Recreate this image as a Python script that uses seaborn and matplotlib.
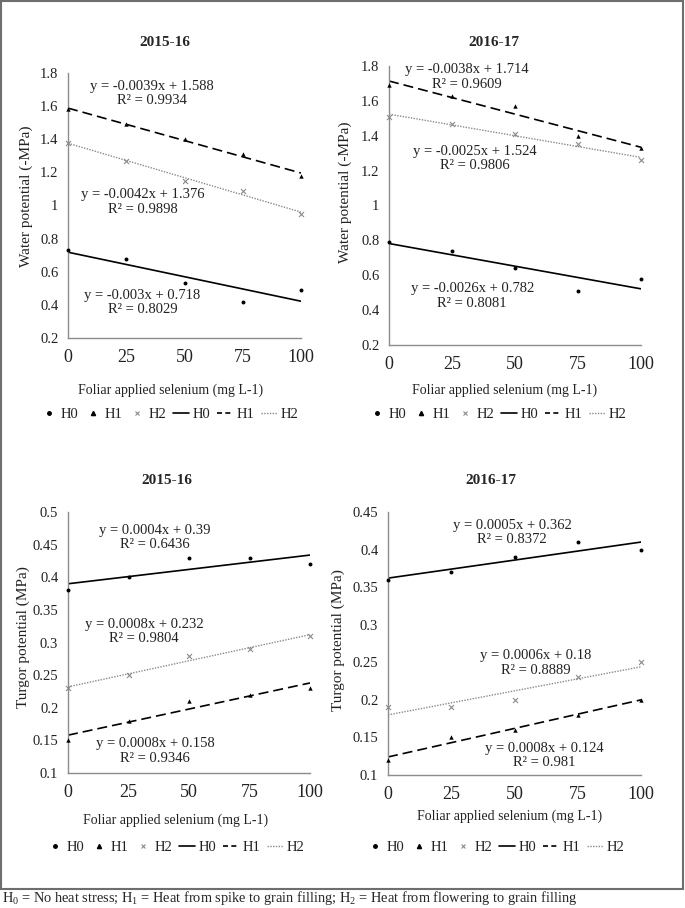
import numpy as np
import pandas as pd
import matplotlib
matplotlib.use("Agg")
import matplotlib.pyplot as plt
from matplotlib.lines import Line2D
from matplotlib.patches import Rectangle
import seaborn as sns

# ---------------- data ----------------
selenium = [0, 25, 50, 75, 100]
treatments = ["H0", "H1", "H2"]

wp1516_h0 = [0.73, 0.68, 0.53, 0.42, 0.49]
wp1516_h1 = [1.58, 1.49, 1.40, 1.31, 1.18]
wp1516_h2 = [1.38, 1.27, 1.15, 1.09, 0.95]

wp1617_h0 = [0.79, 0.74, 0.64, 0.51, 0.58]
wp1617_h1 = [1.69, 1.63, 1.57, 1.40, 1.33]
wp1617_h2 = [1.51, 1.47, 1.41, 1.35, 1.26]

tp1516_h0 = [0.38, 0.40, 0.43, 0.43, 0.42]
tp1516_h1 = [0.15, 0.18, 0.21, 0.22, 0.23]
tp1516_h2 = [0.23, 0.25, 0.28, 0.29, 0.31]

tp1617_h0 = [0.36, 0.37, 0.39, 0.41, 0.40]
tp1617_h1 = [0.12, 0.15, 0.16, 0.18, 0.20]
tp1617_h2 = [0.19, 0.19, 0.20, 0.23, 0.25]

eq_wp1516 = ["y = -0.003x + 0.718\nR² = 0.8029",
             "y = -0.0039x + 1.588\nR² = 0.9934",
             "y = -0.0042x + 1.376\nR² = 0.9898"]
eq_wp1617 = ["y = -0.0026x + 0.782\nR² = 0.8081",
             "y = -0.0038x + 1.714\nR² = 0.9609",
             "y = -0.0025x + 1.524\nR² = 0.9806"]
eq_tp1516 = ["y = 0.0004x + 0.39\nR² = 0.6436",
             "y = 0.0008x + 0.158\nR² = 0.9346",
             "y = 0.0008x + 0.232\nR² = 0.9804"]
eq_tp1617 = ["y = 0.0005x + 0.362\nR² = 0.8372",
             "y = 0.0008x + 0.124\nR² = 0.981",
             "y = 0.0006x + 0.18\nR² = 0.8889"]

x_ticks = [0, 25, 50, 75, 100]
wp_ticks = [0.2, 0.4, 0.6, 0.8, 1.0, 1.2, 1.4, 1.6, 1.8]
wp_ticklabels = ["0.2", "0.4", "0.6", "0.8", "1", "1.2", "1.4", "1.6", "1.8"]
tp1516_ticks = [0.1, 0.15, 0.2, 0.25, 0.3, 0.35, 0.4, 0.45, 0.5]
tp1516_ticklabels = ["0.1", "0.15", "0.2", "0.25", "0.3", "0.35", "0.4", "0.45", "0.5"]
tp1617_ticks = [0.1, 0.15, 0.2, 0.25, 0.3, 0.35, 0.4, 0.45]
tp1617_ticklabels = ["0.1", "0.15", "0.2", "0.25", "0.3", "0.35", "0.4", "0.45"]

titles = ["2015-16", "2016-17", "2015-16", "2016-17"]
xlabel = "Foliar applied selenium (mg L-1)"
ylabel_wp = "Water potential (-MPa)"
ylabel_tp = "Turgor potential (MPa)"
legend_labels = ["H0", "H1", "H2", "H0", "H1", "H2"]
footnote = ("H$_0$ = No heat stress; H$_1$ = Heat from spike to grain filling; "
            "H$_2$ = Heat from flowering to grain filling")

# ---------------- style ----------------
sns.set_style("white")
plt.rcParams["font.family"] = ["Liberation Serif", "DejaVu Serif"]
plt.rcParams["mathtext.fontset"] = "custom"
plt.rcParams["mathtext.rm"] = "Liberation Serif"
plt.rcParams["mathtext.it"] = "Liberation Serif:italic"

W, H = 685, 908
def fx(px):
    return px / W
def fy(py):
    return 1 - py / H

fig = plt.figure(figsize=(W / 100, H / 100), dpi=100)
fig.patch.set_facecolor("white")

AX_GRAY = "#8c8c8c"
TXT = "#222222"
FS_EQ = 10.5
FS_YT = 10.5
FS_XT = 13
FS_LAB = 11

panels = [
    dict(box=(68, 301, 73, 338), series=[wp1516_h0, wp1516_h1, wp1516_h2], eqs=eq_wp1516,
         eqpos=[(32, 0.415), (36, 1.675), (32, 1.02)], ylim=(0.2, 1.8),
         ticks=wp_ticks, ticklabels=wp_ticklabels, ylabel=ylabel_wp,
         ylab=(33, 196), title=(165, 42), xlab=(171, 390), leg=(170, 414)),
    dict(box=(389, 641, 66, 345), series=[wp1617_h0, wp1617_h1, wp1617_h2], eqs=eq_wp1617,
         eqpos=[(33, 0.48), (31, 1.738), (34, 1.27)], ylim=(0.2, 1.8),
         ticks=wp_ticks, ticklabels=wp_ticklabels, ylabel=ylabel_wp,
         ylab=(352, 192), title=(494, 42), xlab=(505, 390), leg=(498, 414)),
    dict(box=(68, 310, 512, 773), series=[tp1516_h0, tp1516_h1, tp1516_h2], eqs=eq_tp1516,
         eqpos=[(36, 0.461), (36, 0.134), (31.5, 0.317)], ylim=(0.1, 0.5),
         ticks=tp1516_ticks, ticklabels=tp1516_ticklabels, ylabel=ylabel_tp,
         ylab=(30, 637), title=(167, 480), xlab=(176, 820), leg=(176, 847)),
    dict(box=(388, 641, 512, 775), series=[tp1617_h0, tp1617_h1, tp1617_h2], eqs=eq_tp1617,
         eqpos=[(49, 0.423), (61.7, 0.126), (58.5, 0.249)], ylim=(0.1, 0.45),
         ticks=tp1617_ticks, ticklabels=tp1617_ticklabels, ylabel=ylabel_tp,
         ylab=(345, 640), title=(491, 480), xlab=(510, 816), leg=(496, 847)),
]

marker_style = {"H0": dict(marker="o", s=8, color="black"),
                "H1": dict(marker="^", s=10, color="black"),
                "H2": dict(marker="x", s=13, color="#8a8a8a", linewidth=0.8)}
line_style = {"H0": dict(color="black", lw=1.2, ls="-"),
              "H1": dict(color="black", lw=1.2, ls=(0, (6, 3))),
              "H2": dict(color="#8a8a8a", lw=1.0, ls=(0, (1, 1)))}

for i, p in enumerate(panels):
    l, r, t, b = p["box"]
    ax = fig.add_axes([fx(l), fy(b), (r - l) / W, (b - t) / H])
    df = pd.DataFrame({"x": selenium * 3,
                       "y": p["series"][0] + p["series"][1] + p["series"][2],
                       "trt": [tr for tr in treatments for _ in selenium]})
    for tr in treatments:
        sub = df[df["trt"] == tr]
        sns.regplot(data=sub, x="x", y="y", ax=ax, scatter=False, ci=None,
                    truncate=True, line_kws=line_style[tr])
        ms = marker_style[tr]
        ax.scatter(sub["x"], sub["y"], marker=ms["marker"], s=ms["s"], c=ms["color"],
                   linewidths=ms.get("linewidth", 0), clip_on=False, zorder=5)
    for txt, (ex, ey) in zip(p["eqs"], p["eqpos"]):
        ax.text(ex, ey, txt, ha="center", va="center", multialignment="center",
                fontsize=FS_EQ, linespacing=1.15, color=TXT)
    ax.set_xlim(0, 100)
    ax.set_ylim(*p["ylim"])
    ax.set_xticks(x_ticks)
    ax.set_xticklabels([str(v) for v in x_ticks])
    ax.set_yticks(p["ticks"])
    ax.set_yticklabels(p["ticklabels"])
    ax.set_xlabel("")
    ax.set_ylabel("")
    for s in ["top", "right"]:
        ax.spines[s].set_visible(False)
    for s in ["left", "bottom"]:
        ax.spines[s].set_color(AX_GRAY)
        ax.spines[s].set_linewidth(1.0)
    ax.tick_params(axis="both", direction="out", length=3, width=0.8, color=AX_GRAY,
                   labelcolor=TXT)
    ax.tick_params(axis="y", labelsize=FS_YT, pad=4)
    ax.tick_params(axis="x", labelsize=FS_XT, pad=5)
    ax.set_facecolor("none")

    fig.text(fx(p["title"][0]), fy(p["title"][1]), titles[i], ha="center", va="center",
             fontsize=11, fontweight="bold")
    fig.text(fx(p["ylab"][0]), fy(p["ylab"][1]), p["ylabel"], ha="center", va="bottom",
             rotation=90, rotation_mode="anchor", fontsize=FS_LAB, color=TXT)
    fig.text(fx(p["xlab"][0]), fy(p["xlab"][1]), xlabel, ha="center", va="center",
             fontsize=10, color=TXT)

    handles = [Line2D([], [], ls="none", marker="o", ms=2.5, color="black"),
               Line2D([], [], ls="none", marker="^", ms=3, color="black"),
               Line2D([], [], ls="none", marker="x", ms=3.5, color="#8a8a8a", mew=0.8),
               Line2D([], [], color="black", lw=1.2, ls="-"),
               Line2D([], [], color="black", lw=1.2, ls=(0, (3, 2))),
               Line2D([], [], color="#8a8a8a", lw=1.0, ls=(0, (1, 1)))]
    fig.legend(handles, legend_labels, loc="center", bbox_to_anchor=(fx(p["leg"][0]), fy(p["leg"][1])),
               ncol=6, frameon=False, fontsize=10.5, handlelength=1.1, handletextpad=0.25,
               columnspacing=0.45, labelcolor=TXT, borderpad=0.1)

# outer frame
fig.patches.append(Rectangle((fx(1), fy(889)), (683 - 1) / W, (889 - 1) / H,
                             transform=fig.transFigure, fill=False,
                             edgecolor="#6e6e6e", linewidth=1.5))
fig.text(fx(2), fy(898), footnote, ha="left", va="center", fontsize=10.4)

fig.savefig("out.png", dpi=100, facecolor="white")
